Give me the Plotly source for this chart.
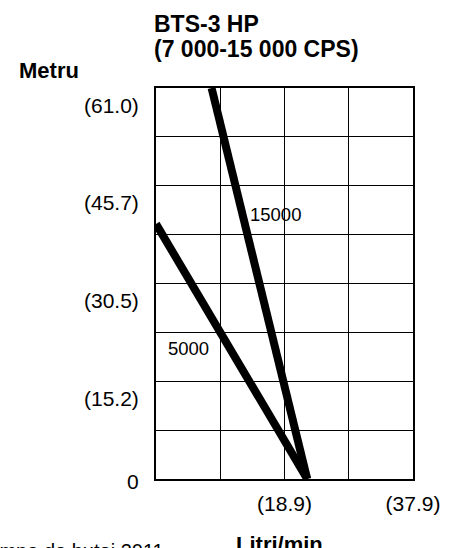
import plotly.graph_objects as go

# ---- data ----
flow_15000 = [8.2, 22.3]      # L/min
head_15000 = [61.0, 0.0]      # m
flow_5000 = [0.0, 22.3]
head_5000 = [39.8, 0.0]

x_grid = [0, 9.475, 18.95, 28.425, 37.9]
x_ticktext = ["", "", "(18.9)", "", "(37.9)"]
y_grid = [0, 7.625, 15.25, 22.875, 30.5, 38.125, 45.75, 53.375, 61.0]
y_label_vals = [0, 15.25, 30.5, 45.75, 61.0]
y_label_text = ["0", "(15.2)", "(30.5)", "(45.7)", "(61.0)"]

# ---- layout geometry (pixels) ----
W, H = 452, 548
L, R, T, B = 156, 422.7, 88, 479.3


def xp(px):
    return (px - L) / (R - L)


def yp(py):
    return (B - py) / (B - T)


REG = "Liberation Sans, Arial, Helvetica, sans-serif"

fig = go.Figure()
for fx, hy in [(flow_15000, head_15000), (flow_5000, head_5000)]:
    fig.add_trace(go.Scatter(x=fx, y=hy, mode="lines",
                             line=dict(color="black", width=8),
                             showlegend=False, hoverinfo="skip"))

ann = []
# y tick labels
for v, t in zip(y_label_vals, y_label_text):
    ann.append(dict(x=0, y=v, xref="x", yref="y", text=t, showarrow=False,
                    xanchor="right", yanchor="middle", xshift=-15,
                    yshift=(-2 if v == 0 else -17),
                    font=dict(family=REG, size=21, color="black")))
# series labels
ann.append(dict(x=17.6, y=41.2, xref="x", yref="y", text="15000", showarrow=False,
                font=dict(family=REG, size=18.5, color="black")))
ann.append(dict(x=4.83, y=20.4, xref="x", yref="y", text="5000", showarrow=False,
                font=dict(family=REG, size=18.5, color="black")))
# titles
ann.append(dict(x=xp(152), y=yp(24), xref="paper", yref="paper", text="<b>BTS-3 HP</b>",
                showarrow=False, xanchor="left", yanchor="middle",
                font=dict(family=REG, size=23, color="black")))
ann.append(dict(x=xp(152), y=yp(49), xref="paper", yref="paper",
                text="<b>(7 000-15 000 CPS)</b>",
                showarrow=False, xanchor="left", yanchor="middle",
                font=dict(family=REG, size=23, color="black")))
ann.append(dict(x=xp(12), y=yp(70), xref="paper", yref="paper", text="<b>Metru</b>",
                showarrow=False, xanchor="left", yanchor="middle",
                font=dict(family=REG, size=22, color="black")))
ann.append(dict(x=xp(287.5), y=yp(545), xref="paper", yref="paper", text="<b>Litri/min.</b>",
                showarrow=False, xanchor="center", yanchor="middle",
                font=dict(family=REG, size=22, color="black")))
ann.append(dict(x=xp(166), y=yp(551), xref="paper", yref="paper", text="Pompe de butoi 2011",
                showarrow=False, xanchor="right", yanchor="middle",
                font=dict(family=REG, size=20, color="black")))

fig.update_layout(
    width=W, height=H,
    margin=dict(l=L, r=W - R, t=T, b=H - B, pad=0),
    paper_bgcolor="white", plot_bgcolor="white",
    annotations=ann,
    xaxis=dict(range=[0, 37.9], tickvals=x_grid, ticktext=x_ticktext,
               showgrid=True, gridcolor="black", gridwidth=1,
               showline=True, mirror=True, linecolor="black", linewidth=1.5,
               ticks="", zeroline=False, fixedrange=True,
               ticklabeloverflow="allow", ticklabelstandoff=5,
               tickfont=dict(family=REG, size=21, color="black")),
    yaxis=dict(range=[0, 61.0], tickvals=y_grid, showticklabels=False,
               showgrid=True, gridcolor="black", gridwidth=1,
               showline=True, mirror=True, linecolor="black", linewidth=1.5,
               ticks="", zeroline=False, fixedrange=True),
)

fig.write_html("out.html", config={"displayModeBar": False},
               post_script="document.body.style.margin='0';document.body.style.overflow='hidden';")
